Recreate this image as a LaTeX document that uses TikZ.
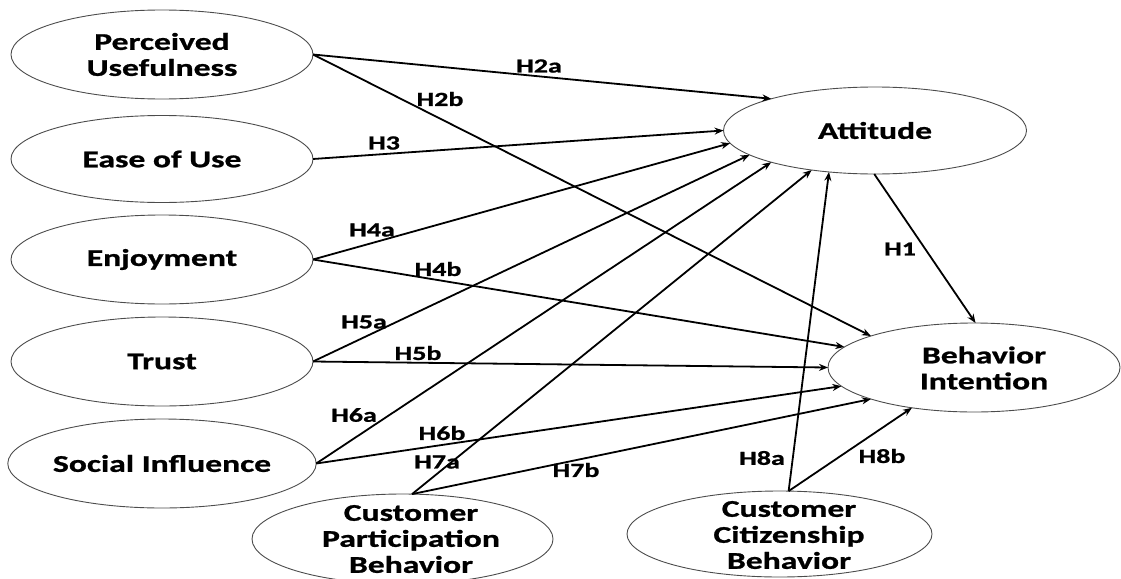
\documentclass[tikz,border=0pt]{standalone}
\usepackage{fontspec}
\setmainfont{Carlito}[FakeStretch=1.4, BoldFeatures={FakeBold=1}]
\usetikzlibrary{arrows.meta,shapes.geometric}
\begin{document}
\begin{tikzpicture}[x=1pt,y=-1pt,
  construct/.style={draw=black!70, line width=0.9pt, ellipse, inner sep=0pt, outer sep=0pt},
  ctext/.style={font=\bfseries\fontsize{24}{26}\selectfont, align=center, inner sep=0pt},
  hyp/.style={font=\bfseries\fontsize{20}{22}\selectfont, inner sep=0pt},
  link/.style={draw=black, line width=1.8pt, -{Stealth[length=9pt,width=7pt]}}]
\useasboundingbox (0,0) rectangle (1121,578);
% left constructs
\node[construct, ctext, minimum width=302pt, minimum height=89pt] (pu) at (162,54.5) {Perceived\\Usefulness};
\node[construct, ctext, minimum width=302pt, minimum height=87pt] (eou) at (162,159) {Ease of Use};
\node[construct, ctext, minimum width=302pt, minimum height=89pt] (enj) at (162,259.5) {Enjoyment};
\node[construct, ctext, minimum width=302pt, minimum height=89pt] (tru) at (162,361.5) {Trust};
\node[construct, ctext, minimum width=302pt, minimum height=89pt] (soc) at (162,463.5) {Social Influence};
% right constructs
\node[construct, ctext, minimum width=303pt, minimum height=87pt] (att) at (875,130.5) {Attitude};
\node[construct, minimum width=292pt, minimum height=89pt] (bi) at (974,367.5) {};
\node[ctext] (bitext) at (984,368) {Behavior\\Intention};
% bottom constructs
\node[construct, minimum width=301pt, minimum height=90pt] (cpb) at (402.5,539) {};
\node[ctext] (cpbtext) at (411,539) {Customer\\Participation\\Behavior};
\node[construct, minimum width=305pt, minimum height=86pt] (ccb) at (779.5,534) {};
\node[ctext] (ccbtext) at (789,535) {Customer\\Citizenship\\Behavior};
% paths
\draw[link] (pu.east) -- (att.163);
\draw[link] (pu.east) -- (bi.163);
\draw[link] (eou.east) -- (att.180);
\draw[link] (enj.east) -- (att.185);
\draw[link] (enj.east) -- (bi.171);
\draw[link] (tru.east) -- (att.191);
\draw[link] (tru.east) -- (bi.180);
\draw[link] (soc.east) -- (att.197);
\draw[link] (soc.east) -- (bi.188);
\draw[link] (cpb.78) -- (att.212);
\draw[link] (cpb.78) -- (bi.197);
\draw[link] (ccb.78) -- (att.222);
\draw[link] (ccb.78) -- (bi.213);
\draw[link] (att.269) -- (bi.88);
% hypothesis labels
\node[hyp] (h2a) at (539,66) {H2a};
\node[hyp] (h2b) at (440,99) {H2b};
\node[hyp] (h3) at (384,143) {H3};
\node[hyp] (h4a) at (372,230) {H4a};
\node[hyp] (h4b) at (438,269) {H4b};
\node[hyp] (h5a) at (364,322) {H5a};
\node[hyp] (h5b) at (418,353) {H5b};
\node[hyp] (h6a) at (354,415) {H6a};
\node[hyp] (h6b) at (442,433) {H6b};
\node[hyp] (h7a) at (437,462) {H7a};
\node[hyp] (h7b) at (576,470) {H7b};
\node[hyp] (h8a) at (762,458) {H8a};
\node[hyp] (h8b) at (882,456) {H8b};
\node[hyp] (h1) at (900,249) {H1};
\end{tikzpicture}
\end{document}
